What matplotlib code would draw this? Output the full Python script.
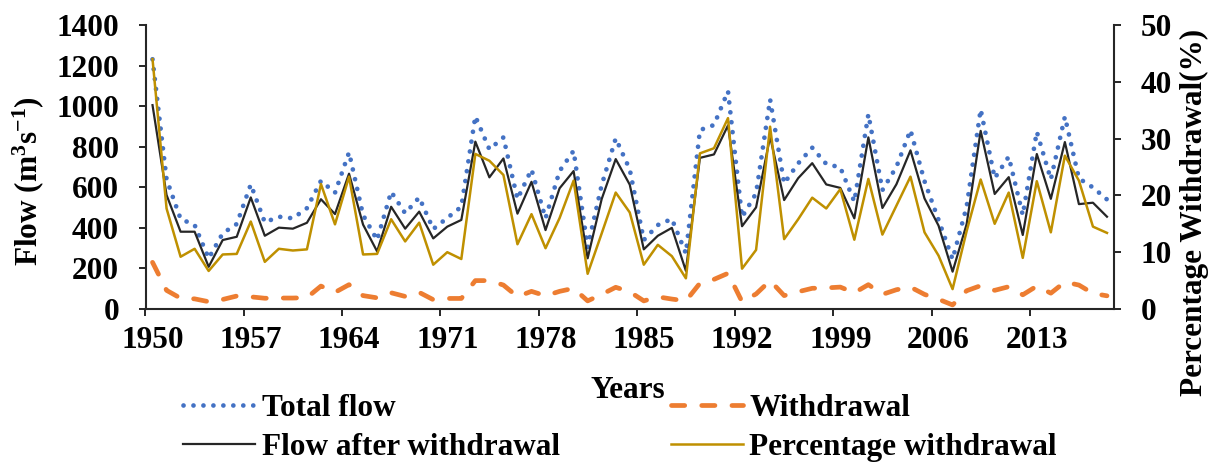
import matplotlib
matplotlib.use("Agg")
import matplotlib.pyplot as plt
from matplotlib.ticker import FixedLocator, NullFormatter, FixedFormatter

plt.rcParams['font.family'] = ['Liberation Serif', 'DejaVu Serif']
plt.rcParams['font.weight'] = 'bold'
plt.rcParams['mathtext.fontset'] = 'custom'
plt.rcParams['mathtext.rm'] = 'Liberation Serif:bold'
plt.rcParams['mathtext.it'] = 'Liberation Serif:bold'
plt.rcParams['mathtext.bf'] = 'Liberation Serif:bold'

years = list(range(1950, 2019))

total_flow = [1231, 640, 444, 414, 250, 373, 419, 614, 427, 455,
              447, 497, 632, 573, 772, 463, 340, 578, 472, 550,
              394, 449, 504, 950, 787, 846, 542, 688, 447, 680,
              780, 305, 611, 841, 688, 340, 414, 444, 274, 882,
              907, 1074, 453, 570, 1033, 619, 718, 795, 715, 698,
              529, 960, 586, 701, 882, 630, 439, 245, 504, 984,
              645, 751, 463, 874, 639, 948, 644, 599, 540]

flow_after = [1005, 562, 381, 381, 208, 340, 356, 550, 361, 401,
              396, 425, 541, 468, 667, 416, 284, 504, 396, 480,
              348, 406, 439, 825, 649, 742, 470, 627, 389, 595,
              680, 250, 542, 739, 613, 294, 361, 400, 188, 745,
              762, 905, 408, 501, 850, 537, 645, 719, 614, 597,
              447, 846, 498, 615, 782, 545, 411, 184, 418, 878,
              567, 650, 365, 764, 543, 823, 517, 524, 455]

withdrawal = [230, 92, 53, 50, 36, 47, 64, 60, 53, 54,
              54, 56, 113, 82, 120, 66, 55, 80, 62, 82,
              46, 52, 52, 140, 140, 118, 61, 87, 65, 87,
              102, 40, 72, 107, 85, 40, 60, 49, 40, 127,
              146, 176, 36, 74, 140, 66, 85, 102, 104, 108,
              80, 120, 72, 95, 108, 72, 48, 20, 90, 115,
              92, 110, 70, 113, 78, 133, 118, 77, 65]

pct_withdrawal = [44.0, 17.7, 9.2, 10.6, 6.7, 9.6, 9.7, 15.4, 8.3, 10.6,
                  10.3, 10.5, 22.0, 14.9, 23.3, 9.6, 9.7, 15.8, 11.9, 15.2,
                  7.8, 10.0, 8.8, 27.3, 26.1, 23.6, 11.4, 16.7, 10.7, 16.0,
                  22.6, 6.2, 13.3, 20.5, 17.0, 7.8, 11.3, 9.3, 5.4, 27.4,
                  28.3, 33.6, 7.1, 10.4, 32.1, 12.3, 15.8, 19.6, 17.7, 21.1,
                  12.2, 22.9, 13.1, 18.2, 23.3, 13.5, 9.4, 3.5, 13.7, 22.8,
                  15.0, 20.5, 9.0, 22.5, 13.5, 27.0, 22.6, 14.5, 13.4]

x_labels = ['1950', '1957', '1964', '1971', '1978', '1985', '1992', '1999', '2006', '2013']
left_ticks = [0, 200, 400, 600, 800, 1000, 1200, 1400]
right_ticks = [0, 10, 20, 30, 40, 50]

W, H = 1221, 467
fig = plt.figure(figsize=(W / 100, H / 100), dpi=100)
ax = fig.add_axes([145.5 / W, 1 - 309 / H, (1114 - 145.5) / W, (309 - 25) / H])
ax2 = ax.twinx()

FS = 22.5
BLUE = '#4472C4'
ORANGE = '#ED7D31'
BLACK = '#262626'
GOLD = '#BF9000'

l_total, = ax.plot(years, total_flow, color=BLUE, lw=3.4, linestyle=(0, (0.01, 2.1)),
                   dash_capstyle='round', solid_capstyle='round', zorder=2)
l_with, = ax.plot(years, withdrawal, color=ORANGE, lw=3.4, linestyle=(0, (2.8, 3.6)),
                  dash_capstyle='round', zorder=2)
l_after, = ax.plot(years, flow_after, color=BLACK, lw=1.6, zorder=3)
l_pct, = ax2.plot(years, pct_withdrawal, color=GOLD, lw=1.8, zorder=4)

ax.set_xlim(1949.5, 2018.5)
ax.set_ylim(0, 1400)
ax2.set_ylim(0, 50)

# category boundaries as major ticks, labels centred on categories
ax.xaxis.set_major_locator(FixedLocator([1949.5 + 7 * k for k in range(10)]))
ax.xaxis.set_major_formatter(NullFormatter())
ax.xaxis.set_minor_locator(FixedLocator([1950 + 7 * k for k in range(10)]))
ax.xaxis.set_minor_formatter(FixedFormatter(x_labels))
ax.tick_params(axis='x', which='minor', length=0, pad=12, labelsize=FS)
ax.tick_params(axis='x', which='major', length=5, width=1.4, direction='out', color=BLACK)

ax.set_yticks(left_ticks)
ax.tick_params(axis='y', length=5, width=1.4, direction='out', pad=14, labelsize=FS, color=BLACK)
ax2.set_yticks(right_ticks)
ax2.tick_params(axis='y', length=5, width=1.4, direction='out', pad=14, labelsize=FS, color=BLACK)

for a in (ax, ax2):
    a.spines['top'].set_visible(False)
    for s in a.spines.values():
        s.set_linewidth(1.5)
        s.set_color(BLACK)
ax.spines['right'].set_visible(False)
ax2.spines['left'].set_visible(False)
ax2.spines['bottom'].set_visible(False)

for lab in ax.get_xticklabels(minor=True) + ax.get_yticklabels() + ax2.get_yticklabels():
    lab.set_fontweight('bold')

fig.text(28 / W, 1 - 181 / H, r'Flow (m$^{3}$s$^{-1}$)', rotation=90, ha='center', va='center',
         fontsize=FS, fontweight='bold')
fig.text(1194 / W, 1 - 212 / H, 'Percentage Withdrawal(%)', rotation=90, ha='center', va='center',
         fontsize=FS, fontweight='bold')
fig.text(628 / W, 1 - 390 / H, 'Years', ha='center', va='center', fontsize=FS, fontweight='bold')

fig.legend([l_total, l_after, l_with, l_pct],
           ['Total flow', 'Flow after withdrawal', 'Withdrawal', 'Percentage withdrawal'],
           ncol=2, loc='upper left', bbox_to_anchor=(183 / W, 1 - 394 / H),
           frameon=False, borderpad=0, borderaxespad=0, handlelength=2.3,
           handletextpad=0.22, columnspacing=3.55, labelspacing=0.33,
           prop={'family': 'Liberation Serif', 'weight': 'bold', 'size': FS})

fig.savefig('out.png', dpi=100)
